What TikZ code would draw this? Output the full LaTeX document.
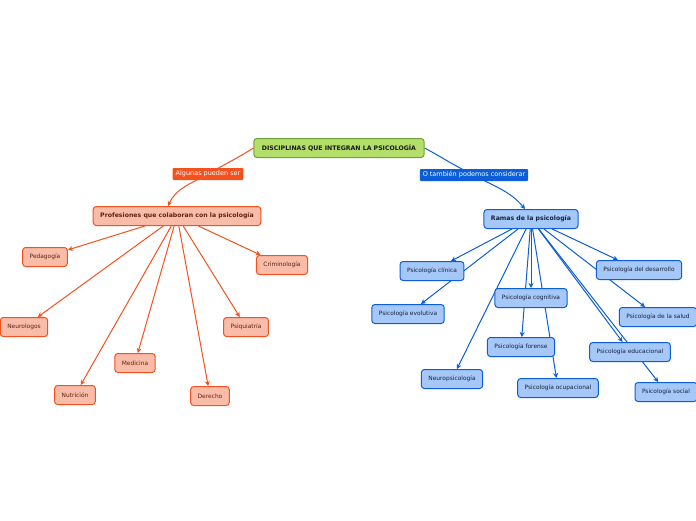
\documentclass[tikz,border=0pt]{standalone}
\usepackage{fontspec}
\setmainfont{DejaVu Sans}
\usetikzlibrary{arrows.meta, positioning, backgrounds}
\definecolor{leafgreen}{HTML}{B3DE69}
\definecolor{mossgreen}{HTML}{6FA33A}
\definecolor{flame}{HTML}{F4511E}
\definecolor{salmon}{HTML}{F9BCA8}
\definecolor{rust}{HTML}{5E2414}
\definecolor{royal}{HTML}{0B5ED7}
\definecolor{sky}{HTML}{A6C8F8}
\definecolor{ink}{HTML}{16223D}

\tikzset{
  box/.style={rounded corners=3pt, line width=1pt, inner xsep=7pt, inner ysep=0pt,
    minimum height=19pt, font=\fontsize{5.9}{6}\selectfont},
  rootbox/.style={box, draw=mossgreen, fill=leafgreen, text=black!90,
    inner xsep=8pt, font=\fontsize{6.2}{7}\selectfont\bfseries},
  profbox/.style={box, draw=flame, fill=salmon, text=rust},
  ramabox/.style={box, draw=royal, fill=sky, text=ink},
  tag/.style={rounded corners=1pt, text=white, inner xsep=3pt, inner ysep=0pt,
    minimum height=12pt, font=\fontsize{6.5}{7}\selectfont},
  link/.style={-{Stealth[length=5pt,width=5pt]}, line width=1pt}
}

\begin{document}
\begin{tikzpicture}[x=1pt, y=-1pt]
        \useasboundingbox (0,0) rectangle (696,520);
        % Root
        \node[rootbox] (root) at (339,148) {DISCIPLINAS QUE INTEGRAN LA PSICOLOGÍA};
        % Link labels
        \node[tag, fill=flame] (algunas) at (208,174) {Algunas pueden ser};
        \node[tag, fill=royal] (tambien) at (474,175) {O también podemos considerar};
        % Main branches
        \node[profbox, font=\fontsize{6.2}{7}\selectfont\bfseries] (prof) at (177,216) {Profesiones que colaboran con la psicología};
        \node[ramabox, font=\fontsize{6.2}{7}\selectfont\bfseries] (ramas) at (531,219) {Ramas de la psicología};
        % Professions
        \node[profbox] (pedagogia) at (45,257) {Pedagogía};
        \node[profbox] (crimino) at (282,265) {Criminología};
        \node[profbox] (neuro) at (24,327) {Neurologos};
        \node[profbox] (psiquia) at (246,327) {Psiquiatría};
        \node[profbox] (medicina) at (135,363) {Medicina};
        \node[profbox] (nutricion) at (75,395) {Nutrición};
        \node[profbox] (derecho) at (210,396) {Derecho};
        % Branches of psychology
        \node[ramabox] (clinica) at (432,271) {Psicología clínica};
        \node[ramabox] (evolutiva) at (408,314) {Psicología evolutiva};
        \node[ramabox] (cognitiva) at (531,298) {Psicología cognitiva};
        \node[ramabox] (desarrollo) at (639,270) {Psicología del desarrollo};
        \node[ramabox] (salud) at (658,317) {Psicología de la salud};
        \node[ramabox] (forense) at (521,347) {Psicología forense};
        \node[ramabox] (educa) at (630,352) {Psicología educacional};
        \node[ramabox] (neuropsi) at (452,379) {Neuropsicología};
        \node[ramabox] (ocupa) at (558,388) {Psicología ocupacional};
        \node[ramabox] (social) at (666,392) {Psicología social};

        \begin{pgfonlayer}{background}
        % Root connectors
        \draw[link, flame] (root.west) to[out=212, in=30] (algunas.center)
            to[out=210, in=65] ([xshift=-9pt]prof.north);
        \draw[link, royal] (root.east) to[out=-28, in=155] (tambien.center)
            to[out=-30, in=130] ([xshift=-6pt]ramas.north);
        % Professions
        \foreach \n in {pedagogia, crimino, neuro, psiquia, medicina, nutricion, derecho}
            \draw[link, flame] (prof) -- (\n);
        % Branches
        \foreach \n in {clinica, evolutiva, cognitiva, desarrollo, salud, forense, educa, neuropsi, ocupa, social}
            \draw[link, royal] (ramas) -- (\n);
        \end{pgfonlayer}
\end{tikzpicture}
\end{document}
